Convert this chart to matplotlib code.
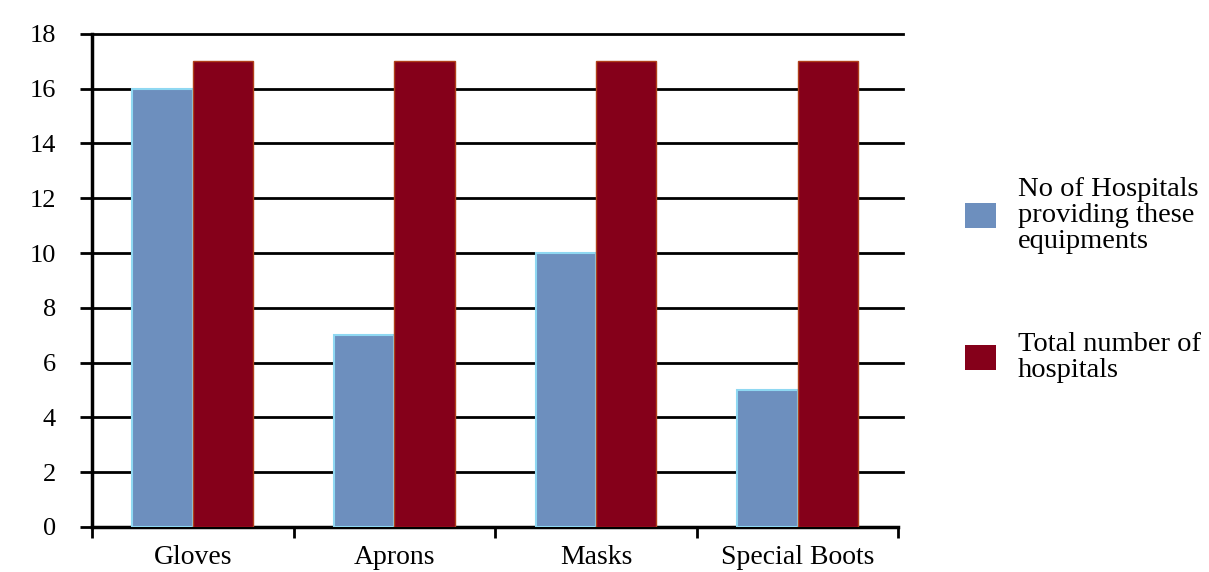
import matplotlib
matplotlib.use("Agg")
import matplotlib.pyplot as plt
import numpy as np

categories = ["Gloves", "Aprons", "Masks", "Special Boots"]
providing = [16, 7, 10, 5]
total = [17, 17, 17, 17]
labels = ["No of Hospitals\nproviding these\nequipments", "Total number of\nhospitals"]

plt.rcParams["font.family"] = ["Liberation Serif", "DejaVu Serif"]

fig = plt.figure(figsize=(12.09, 5.72), dpi=100)
ax = fig.add_axes([0.0761, 0.0787, 0.667, 0.862])

x = np.arange(len(categories))
w = 0.3
b1 = ax.bar(x - w / 2, providing, w, color="#6d8fbe", edgecolor="#8fd8f2", linewidth=1.5,
            label=labels[0], zorder=3)
b2 = ax.bar(x + w / 2, total, w, color="#85001a", edgecolor="#b0401a", linewidth=1.0,
            label=labels[1], zorder=3)

ax.set_xlim(-0.5, len(categories) - 0.5)
ax.set_ylim(0, 18)

# horizontal grid, running a bit past the plot on the right
for yv in range(2, 19, 2):
    ax.axhline(yv, xmin=0, xmax=1.006, color="black", lw=2, zorder=1, clip_on=False)

for s in ["top", "right"]:
    ax.spines[s].set_visible(False)
ax.spines["left"].set_linewidth(2.5)
ax.spines["bottom"].set_linewidth(2.5)

ax.set_yticks(range(0, 19, 2))
ax.tick_params(axis="y", length=9, width=2, pad=17, labelsize=19)

# category labels in the middle, tick marks between groups
ax.set_xticks(x)
ax.set_xticklabels(categories)
ax.tick_params(axis="x", which="major", length=0, pad=13, labelsize=20)
ax.set_xticks(np.arange(-0.5, len(categories), 1), minor=True)
ax.tick_params(axis="x", which="minor", length=8, width=2, direction="out")

leg = fig.legend(handles=[b1, b2], labels=labels, loc="upper left",
                 bbox_to_anchor=(0.777, 0.735), frameon=False, fontsize=20.5,
                 handlelength=1.1, handleheight=0.95, handletextpad=0.75,
                 labelspacing=2.75)
for t in leg.get_texts():
    t.set_linespacing(1.05)
for h in leg.legend_handles:
    h.set_edgecolor("none")

fig.savefig("out.png", dpi=100, facecolor="white")
